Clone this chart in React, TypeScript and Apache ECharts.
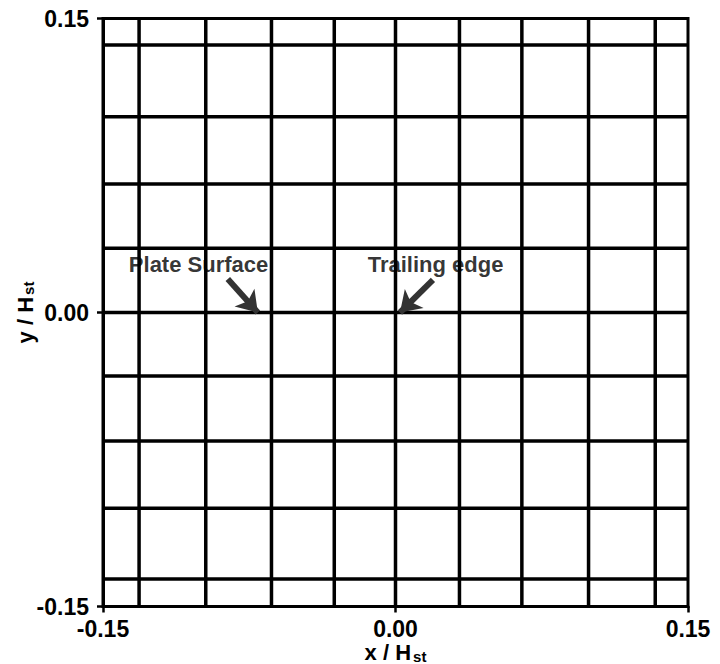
import React, { useEffect, useRef } from 'react';
import * as echarts from 'echarts';

// Mesh line positions (data units, x/Hst and y/Hst)
const xGridLines = [-0.1315, -0.0973, -0.0636, -0.0314, 0.0, 0.0328, 0.0648, 0.099, 0.1332];
const yGridLines = [0.1365, 0.0999, 0.0656, 0.0328, 0.0, -0.0324, -0.0656, -0.0999, -0.136];

// Axis range and ticks
const axisMin = -0.15;
const axisMax = 0.15;
const tickStep = 0.15;

// Annotations
const annotationLabels = ['Plate Surface', 'Trailing edge'];
const annotationTextPos = [[-0.137, 0.0245], [-0.0145, 0.0245]];
const arrowTails = [[-0.086, 0.0171], [0.0192, 0.0166]];
const arrowHeads = [[-0.0706, 0.0], [0.0023, 0.0]];

const FONT = '"Liberation Sans", Arial, Helvetica, sans-serif';

export default function App() {
  const ref = useRef<HTMLDivElement>(null);

  useEffect(() => {
    if (!ref.current) return;
    const chart = echarts.init(ref.current, undefined, { renderer: 'svg' });

    const lineStyle = { color: '#000', width: 3.5 };
    const series: any[] = [];
    xGridLines.forEach((x, i) => {
      series.push({
        type: 'line',
        name: 'v' + i,
        data: [[x, axisMin], [x, axisMax]],
        symbol: 'none',
        lineStyle,
        silent: true,
      });
    });
    yGridLines.forEach((y, i) => {
      series.push({
        type: 'line',
        name: 'h' + i,
        data: [[axisMin, y], [axisMax, y]],
        symbol: 'none',
        lineStyle,
        silent: true,
      });
    });
    series.push({
      type: 'scatter',
      name: 'annotations',
      symbolSize: 1,
      itemStyle: { color: 'rgba(0,0,0,0)' },
      data: annotationLabels.map((name, i) => ({
        name,
        value: annotationTextPos[i],
      })),
      label: {
        show: true,
        position: 'right',
        distance: 0,
        formatter: (p: any) => p.name,
        color: '#000',
        fontFamily: FONT,
        fontWeight: 'bold',
        fontSize: 22,
      },
      markLine: {
        silent: true,
        symbol: ['none', 'arrow'],
        symbolSize: 20,
        label: { show: false },
        lineStyle: { color: '#333', width: 6, type: 'solid' },
        data: arrowTails.map((t, i) => [{ coord: t }, { coord: arrowHeads[i] }]),
      },
      z: 10,
    });

    const nameRich = {
      a: { fontFamily: FONT, fontWeight: 'bold', fontSize: 22, color: '#000', lineHeight: 22, verticalAlign: 'top' },
      b: { fontFamily: FONT, fontWeight: 'bold', fontSize: 15, color: '#000', lineHeight: 22, verticalAlign: 'bottom', padding: [0, 0, 0, 2] },
    };

    const axisCommon = {
      type: 'value',
      min: axisMin,
      max: axisMax,
      interval: tickStep,
      splitLine: { show: false },
      axisLine: { show: true, onZero: false, lineStyle: { color: '#000', width: 3 } },
      axisTick: { show: true, inside: false, length: 6, lineStyle: { color: '#000', width: 2.5 } },
      axisLabel: {
        color: '#000',
        fontFamily: FONT,
        fontWeight: 'bold',
        fontSize: 23,
        lineHeight: 22,
        formatter: (v: number) => v.toFixed(2),
      },
      nameLocation: 'middle',
      nameMoveOverlap: false,
    };

    chart.setOption({
      animation: false,
      backgroundColor: '#fff',
      grid: {
        left: 103,
        right: 32,
        top: 18.5,
        bottom: 57.5,
        show: true,
        borderColor: '#000',
        borderWidth: 3,
        containLabel: false,
        outerBoundsMode: 'none',
      },
      xAxis: {
        ...axisCommon,
        axisLabel: { ...axisCommon.axisLabel, margin: 11 },
        name: '{a|x / H}{b|st}',
        nameGap: 35,
        nameTextStyle: { rich: nameRich },
      },
      yAxis: {
        ...axisCommon,
        axisLabel: { ...axisCommon.axisLabel, margin: 14 },
        name: '{a|y / H}{b|st}',
        nameGap: 67,
        nameRotate: 90,
        nameTextStyle: { rich: nameRich },
      },
      series,
    });

    return () => chart.dispose();
  }, []);

  return (
    <div
      ref={ref}
      style={{ position: 'fixed', left: 0, top: 0, width: 720, height: 664 }}
    />
  );
}
